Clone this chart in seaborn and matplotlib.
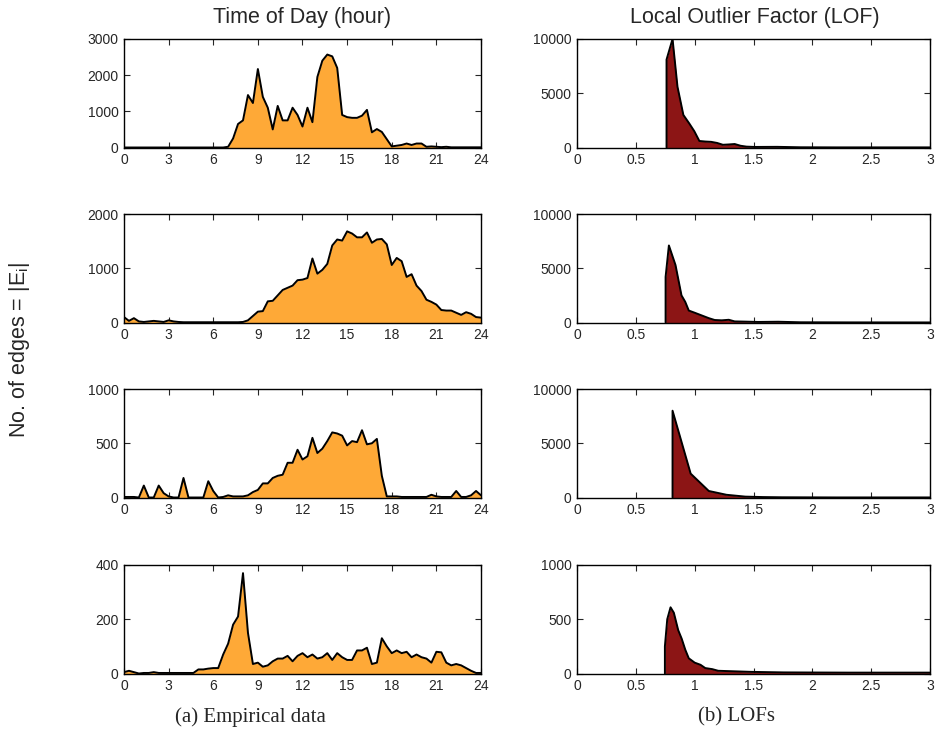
import numpy as np
import pandas as pd
import matplotlib
matplotlib.use("Agg")
import matplotlib.pyplot as plt
import seaborn as sns

# ---------------- data ----------------
# time-of-day bins (20 minute bins, hours)
hours = [k / 3 for k in range(73)]

tod_1 = [0, 0, 0, 0, 0, 0, 0, 0, 0, 0, 0, 0, 0, 0, 0, 0, 0, 0, 0, 0, 0, 20,
         250, 650, 750, 1450, 1230, 2170, 1400, 1100, 500, 1150, 750, 750, 1100, 900,
         580, 1100, 700, 1950, 2400, 2570, 2520, 2200, 900, 840, 820, 820, 880, 1040,
         420, 510, 430, 230, 30, 50, 70, 110, 70, 110, 110, 20, 30, 20, 10, 20,
         5, 5, 5, 5, 5, 5, 5]
tod_2 = [100, 30, 80, 20, 10, 20, 30, 20, 10, 40, 20, 10, 5, 5, 5, 5, 5, 5, 5, 5,
         5, 5, 5, 5, 10, 40, 120, 200, 210, 390, 400, 500, 600, 640, 680, 780,
         790, 820, 1180, 900, 970, 1080, 1420, 1530, 1510, 1680, 1640, 1570, 1570, 1660,
         1470, 1530, 1540, 1440, 1060, 1190, 1130, 840, 890, 680, 580, 420, 380, 330,
         230, 220, 220, 180, 140, 190, 160, 100, 90]
tod_3 = [5, 5, 5, 0, 110, 0, 0, 110, 40, 10, 0, 0, 180, 0, 0, 0, 0, 150, 60, 0,
         5, 20, 10, 10, 10, 20, 50, 70, 130, 130, 180, 200, 210, 320, 320, 440,
         350, 380, 550, 410, 450, 520, 600, 590, 570, 480, 520, 510, 620, 490,
         500, 540, 200, 10, 10, 10, 5, 5, 5, 5, 5, 5, 25, 10, 5, 5,
         5, 60, 5, 5, 20, 60, 20]
tod_4 = [5, 10, 5, 0, 2, 2, 5, 2, 2, 2, 2, 2, 2, 2, 2, 15, 15, 18, 20, 20,
         70, 110, 180, 210, 370, 150, 35, 40, 25, 30, 45, 55, 55, 65, 45, 65,
         75, 60, 70, 55, 60, 75, 50, 75, 60, 50, 50, 85, 85, 95, 35, 40,
         130, 100, 75, 85, 75, 80, 60, 70, 60, 55, 40, 80, 78, 40, 30, 35,
         30, 20, 10, 2, 2]

lof_x_1 = [0.761, 0.761, 0.812, 0.854, 0.904, 0.955, 0.997, 1.04, 1.09, 1.14, 1.19,
           1.24, 1.29, 1.34, 1.39, 1.44, 1.51, 1.70, 1.90, 2.2, 2.6, 3.0]
lof_y_1 = [0, 8100, 10000, 5600, 3000, 2200, 1500, 600, 550, 520, 420,
           250, 280, 320, 160, 80, 50, 60, 20, 10, 10, 10]
lof_x_2 = [0.753, 0.753, 0.781, 0.837, 0.888, 0.92, 0.95, 1.0, 1.06, 1.12, 1.17,
           1.23, 1.29, 1.34, 1.43, 1.54, 1.71, 1.90, 2.3, 3.0]
lof_y_2 = [0, 4200, 7100, 5300, 2500, 1900, 1100, 900, 650, 400, 230,
           200, 250, 100, 80, 50, 70, 20, 10, 5]
lof_x_3 = [0.812, 0.812, 0.966, 1.12, 1.27, 1.43, 1.58, 1.74, 2.2, 3.0]
lof_y_3 = [0, 8000, 2200, 600, 250, 80, 40, 20, 5, 5]
lof_x_4 = [0.747, 0.747, 0.767, 0.795, 0.823, 0.86, 0.89, 0.92, 0.95, 1.0, 1.05,
           1.09, 1.15, 1.2, 1.34, 1.48, 1.76, 2.3, 3.0]
lof_y_4 = [0, 250, 500, 610, 560, 400, 320, 220, 140, 100, 80,
           50, 40, 25, 20, 15, 10, 8, 8]

tod_series = [tod_1, tod_2, tod_3, tod_4]
tod_yticks = [[0, 1000, 2000, 3000], [0, 1000, 2000], [0, 500, 1000], [0, 200, 400]]
lof_series = [(lof_x_1, lof_y_1), (lof_x_2, lof_y_2), (lof_x_3, lof_y_3), (lof_x_4, lof_y_4)]
lof_yticks = [[0, 5000, 10000], [0, 5000, 10000], [0, 5000, 10000], [0, 500, 1000]]

tod_xticks = [0, 3, 6, 9, 12, 15, 18, 21, 24]
lof_xticks = [0, 0.5, 1, 1.5, 2, 2.5, 3]
lof_xticklabels = ["0", "0.5", "1", "1.5", "2", "2.5", "3"]

# ---------------- style ----------------
sns.set_style("white")
plt.rcParams['font.family'] = ['Liberation Sans', 'DejaVu Sans']
plt.rcParams['mathtext.fontset'] = 'custom'
plt.rcParams['mathtext.rm'] = 'Liberation Sans'
plt.rcParams['mathtext.it'] = 'Liberation Sans'

ORANGE = "#FEA937"
DARKRED = "#8C1515"

W, H = 936, 733
fig = plt.figure(figsize=(W / 100, H / 100), dpi=100)

row_tops = [39, 214, 389, 565]
row_h = 108.5
left_x0, left_x1 = 124, 481
right_x0, right_x1 = 577, 930


def make_ax(x0, x1, top):
    return fig.add_axes([x0 / W, (H - top - row_h) / H, (x1 - x0) / W, row_h / H])


def style_ax(ax):
    ax.tick_params(direction='in', length=4, width=0.8, labelsize=10,
                   top=True, right=True, bottom=True, left=True, pad=4)
    for s in ax.spines.values():
        s.set_linewidth(1.0)
        s.set_color('black')
    ax.set_xlabel("")
    ax.set_ylabel("")


for i in range(4):
    ax = make_ax(left_x0, left_x1, row_tops[i])
    df = pd.DataFrame({"hour": hours, "count": tod_series[i]})
    ax.fill_between(df["hour"], 0, df["count"], color=ORANGE, linewidth=0)
    sns.lineplot(data=df, x="hour", y="count", ax=ax, color="black", lw=1.4)
    ax.set_xlim(0, 24)
    ax.set_ylim(tod_yticks[i][0], tod_yticks[i][-1])
    ax.set_xticks(tod_xticks)
    ax.set_yticks(tod_yticks[i])
    style_ax(ax)

    ax2 = make_ax(right_x0, right_x1, row_tops[i])
    lx, ly = lof_series[i]
    df2 = pd.DataFrame({"lof": lx, "count": ly})
    ax2.fill_between(df2["lof"], 0, df2["count"], color=DARKRED, linewidth=0)
    sns.lineplot(data=df2, x="lof", y="count", ax=ax2, color="black", lw=1.4,
                 sort=False, estimator=None)
    ax2.set_xlim(0, 3)
    ax2.set_ylim(lof_yticks[i][0], lof_yticks[i][-1])
    ax2.set_xticks(lof_xticks)
    ax2.set_xticklabels(lof_xticklabels)
    ax2.set_yticks(lof_yticks[i])
    style_ax(ax2)

fig.text(302 / W, 1 - 18 / H, "Time of Day (hour)", ha='center', va='center', fontsize=15.5)
fig.text(755 / W, 1 - 18 / H, "Local Outlier Factor (LOF)", ha='center', va='center', fontsize=15.5)
fig.text(20 / W, 1 - 350 / H, r"No. of edges = |E$_i$|", ha='center', va='center',
         rotation=90, fontsize=15.5)
fig.text(250 / W, 1 - 717 / H, "(a) Empirical data", ha='center', va='center',
         fontsize=15, family=['Liberation Serif', 'DejaVu Serif'])
fig.text(736 / W, 1 - 717 / H, "(b) LOFs", ha='center', va='center',
         fontsize=15, family=['Liberation Serif', 'DejaVu Serif'])

fig.savefig("out.png", dpi=100)
